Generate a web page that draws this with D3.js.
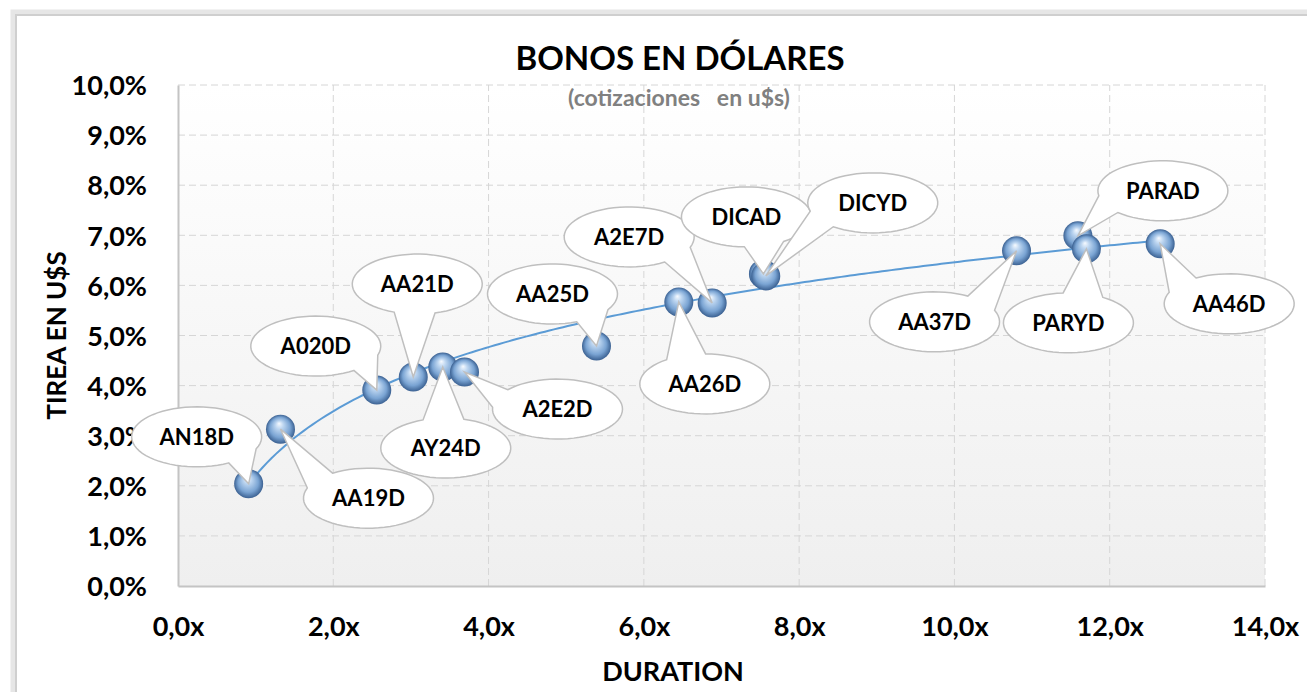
<!DOCTYPE html>
<html>
<head>
<meta charset="utf-8">
<title>Bonos en dólares</title>
<script src="https://d3js.org/d3.v7.min.js"></script>
<style>
  body { margin: 0; background: #fff; }
  svg text { font-family: Lato, "Open Sans", sans-serif; font-weight: bold; }
</style>
</head>
<body>
<div id="chart"></div>
<script>
// bonos: nombre, duration (x), TIR (%)
var bonos = ["AN18D", "AA19D", "A020D", "AA21D", "AY24D", "A2E2D", "AA25D", "AA26D",
             "A2E7D", "DICAD", "DICYD", "AA37D", "PARAD", "PARYD", "AA46D"];
var duration = [0.91, 1.32, 2.56, 3.03, 3.41, 3.69, 5.39, 6.45, 6.88, 7.54, 7.57, 10.80, 11.59, 11.70, 12.65];
var tirea = [2.04, 3.13, 3.91, 4.17, 4.37, 4.27, 4.79, 5.67, 5.65, 6.23, 6.19, 6.69, 6.99, 6.73, 6.83];
var xTicks = [0, 2, 4, 6, 8, 10, 12, 14];
var yTicks = [0, 1, 2, 3, 4, 5, 6, 7, 8, 9, 10];

// posicion de cada globo respecto del punto (px)
var globos = [
  [-52, -47], [88, 69], [-61, -44], [4, -93], [3, 81], [93, 37], [-44, -52], [26, 82],
  [-83, -66], [-17, -57], [107, -73], [-82, 71], [85, -45], [-18, 74], [69, 60]
];

var width = 1307, height = 692;
var margin = {left: 178, right: 42, top: 85, bottom: 106};

var svg = d3.select("#chart").append("svg")
    .attr("width", width)
    .attr("height", height);

var defs = svg.append("defs");
var bg = defs.append("linearGradient").attr("id", "bg").attr("x1", 0).attr("y1", 0).attr("x2", 0).attr("y2", 1);
bg.append("stop").attr("offset", "0%").attr("stop-color", "#ffffff");
bg.append("stop").attr("offset", "100%").attr("stop-color", "#efefef");

var esfera = defs.append("radialGradient").attr("id", "esfera")
    .attr("cx", "50%").attr("cy", "50%").attr("r", "50%").attr("fx", "45%").attr("fy", "30%");
esfera.append("stop").attr("offset", "0%").attr("stop-color", "#f6faff");
esfera.append("stop").attr("offset", "28%").attr("stop-color", "#bcd5f0");
esfera.append("stop").attr("offset", "70%").attr("stop-color", "#7aa4d3");
esfera.append("stop").attr("offset", "100%").attr("stop-color", "#3b6192");

// marco
svg.append("rect").attr("x", 13).attr("y", 12).attr("width", width).attr("height", height)
    .attr("fill", "none").attr("stroke", "#e6e6e6").attr("stroke-width", 5);
svg.append("rect").attr("x", 16).attr("y", 15).attr("width", width).attr("height", height)
    .attr("fill", "#fff").attr("stroke", "#cfcfcf").attr("stroke-width", 2);

var x = d3.scaleLinear().domain([0, 14]).range([margin.left, width - margin.right]);
var y = d3.scaleLinear().domain([0, 10]).range([height - margin.bottom, margin.top]);

svg.append("rect")
    .attr("x", x(0)).attr("y", y(10))
    .attr("width", x(14) - x(0)).attr("height", y(0) - y(10))
    .attr("fill", "url(#bg)");

// grilla
svg.append("g").selectAll("line").data(yTicks.slice(1)).join("line")
    .attr("x1", x(0)).attr("x2", x(14))
    .attr("y1", d => y(d)).attr("y2", d => y(d))
    .attr("stroke", "#d6d6d6").attr("stroke-dasharray", "7,4");
svg.append("g").selectAll("line").data(xTicks.slice(1)).join("line")
    .attr("x1", d => x(d)).attr("x2", d => x(d))
    .attr("y1", y(0)).attr("y2", y(10))
    .attr("stroke", "#d6d6d6").attr("stroke-dasharray", "7,4");

// ejes
var yAxis = d3.axisLeft(y).tickValues(yTicks).tickSize(0).tickPadding(31)
    .tickFormat(d => d3.format(".1f")(d).replace(".", ",") + "%");
var xAxis = d3.axisBottom(x).tickValues(xTicks).tickSize(0).tickPadding(34)
    .tickFormat(d => d3.format(".1f")(d).replace(".", ",") + "x");

var gy = svg.append("g").attr("transform", "translate(" + x(0) + ",0)").call(yAxis);
var gx = svg.append("g").attr("transform", "translate(0," + y(0) + ")").call(xAxis);
[gx, gy].forEach(function(g) {
  g.select(".domain").attr("stroke", "#c4c4c4").attr("stroke-width", 2);
  g.selectAll("text").attr("font-size", "27px").attr("fill", "#000")
    .style("font-family", "Lato, sans-serif").style("font-weight", "bold");
});
gy.selectAll("text").attr("dy", "0.36em");
gx.selectAll("text").attr("dy", "0.6em");

// linea de tendencia logaritmica (minimos cuadrados sobre ln x)
var lx = duration.map(Math.log);
var mx = d3.mean(lx), my = d3.mean(tirea);
var b = d3.sum(lx, (v, i) => (v - mx) * (tirea[i] - my)) / d3.sum(lx, v => (v - mx) * (v - mx));
var a = my - b * mx;
var tend = d3.range(0, 201).map(function(i) {
  var xv = d3.min(duration) + (d3.max(duration) - d3.min(duration)) * i / 200;
  return [xv, a + b * Math.log(xv)];
});
svg.append("path").datum(tend)
    .attr("d", d3.line().x(d => x(d[0])).y(d => y(d[1])))
    .attr("fill", "none").attr("stroke", "#5b9bd5").attr("stroke-width", 2);

// puntos
var pts = bonos.map((n, i) => ({nombre: n, x: duration[i], y: tirea[i], g: globos[i]}));
svg.append("g").selectAll("circle").data(pts).join("circle")
    .attr("cx", d => x(d.x)).attr("cy", d => y(d.y)).attr("r", 14.5)
    .attr("fill", "url(#esfera)");

// globos (callouts)
function globo(d) {
  var px = x(d.x), py = y(d.y);
  var cx = px + d.g[0], cy = py + d.g[1];
  var rx = 65, ry = 30;
  var ang = Math.atan2(py - cy, px - cx);
  var spread = 0.32;
  var a2 = ang + spread;
  var p = d3.path();
  p.moveTo(cx + rx * Math.cos(a2), cy + ry * Math.sin(a2));
  var n = 60;
  for (var k = 1; k <= n; k++) {
    var t = a2 + (2 * Math.PI - 2 * spread) * k / n;
    p.lineTo(cx + rx * Math.cos(t), cy + ry * Math.sin(t));
  }
  p.lineTo(px, py);
  p.closePath();
  return p.toString();
}
var g = svg.append("g").selectAll("g").data(pts).join("g");
g.append("path").attr("d", globo)
    .attr("fill", "#fff").attr("stroke", "#bfbfbf").attr("stroke-width", 1.5);
g.append("text")
    .attr("x", d => x(d.x) + d.g[0]).attr("y", d => y(d.y) + d.g[1])
    .attr("dy", "0.36em").attr("text-anchor", "middle")
    .attr("font-size", "22px").attr("fill", "#000")
    .text(d => d.nombre);

// titulos
svg.append("text").attr("x", 680).attr("y", 70).attr("text-anchor", "middle")
    .attr("font-size", "33px").attr("fill", "#000").text("BONOS EN DÓLARES");
svg.append("text").attr("x", 679).attr("y", 106).attr("text-anchor", "middle")
    .attr("font-size", "23px").attr("fill", "#808080").style("white-space", "pre")
    .text("(cotizaciones   en u$s)");
svg.append("text").attr("x", 673).attr("y", 681).attr("text-anchor", "middle")
    .attr("font-size", "27px").attr("fill", "#000").text("DURATION");
svg.append("text").attr("transform", "translate(66," + ((y(0) + y(10)) / 2) + ") rotate(-90)")
    .attr("text-anchor", "middle")
    .attr("font-size", "26px").attr("fill", "#000").text("TIREA EN U$S");
</script>
</body>
</html>
